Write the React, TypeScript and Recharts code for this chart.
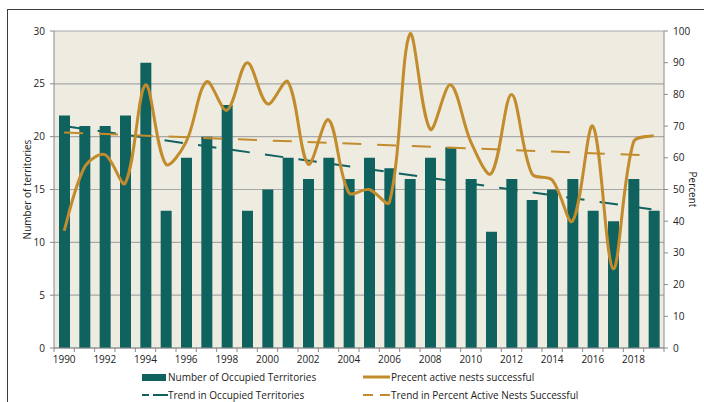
import { Bar, CartesianGrid, ComposedChart, Line, XAxis, YAxis } from "recharts";

const years = [
  1990, 1991, 1992, 1993, 1994, 1995, 1996, 1997, 1998, 1999, 2000, 2001, 2002, 2003, 2004,
  2005, 2006, 2007, 2008, 2009, 2010, 2011, 2012, 2013, 2014, 2015, 2016, 2017, 2018, 2019,
];
const territories = [
  22, 21, 21, 22, 27, 13, 18, 20, 23, 13, 15, 18, 16, 18, 16,
  18, 17, 16, 18, 19, 16, 11, 16, 14, 15, 16, 13, 12, 16, 13,
];
const percentSuccessful = [
  37, 57, 61, 52, 83, 58, 65, 84, 75, 90, 77, 84, 58, 72, 49,
  50, 46, 99, 69, 83, 65, 55, 80, 55, 53, 40, 70, 25, 65, 67,
];
// trend lines: only the two end points, joined straight
const territoryTrendEnds = [21.0, 13.1];
const percentTrendEnds = [68, 60.7];

const leftTicks = [0, 5, 10, 15, 20, 25, 30];
const rightTicks = [0, 10, 20, 30, 40, 50, 60, 70, 80, 90, 100];

const TEAL = "#10625f";
const GOLD = "#c28c2c";
const BEIGE = "#eeebe0";
const GRID = "#a8a8a8";
const AXIS = "#8a8a8a";
const FONT = "'Open Sans', sans-serif";

const PLOT_LEFT = 54;
const PLOT_RIGHT = 664;
const PLOT_BOTTOM = 348;
const BAND = (PLOT_RIGHT - PLOT_LEFT) / years.length;

const data = years.map((year, i) => ({
  year,
  territories: territories[i],
  percent: percentSuccessful[i],
  territoryTrend: i === 0 ? territoryTrendEnds[0] : i === years.length - 1 ? territoryTrendEnds[1] : null,
  percentTrend: i === 0 ? percentTrendEnds[0] : i === years.length - 1 ? percentTrendEnds[1] : null,
}));

// Excel-like smoothed line: bezier with chord-length weighted tangents
const excelSmooth = (ctx: any) => {
  let pts: number[][] = [];
  const dist = (a: number[], b: number[]) => Math.hypot(b[0] - a[0], b[1] - a[1]) || 1e-6;
  return {
    areaStart() {},
    areaEnd() {},
    lineStart() {
      pts = [];
    },
    point(x: number, y: number) {
      pts.push([+x, +y]);
    },
    lineEnd() {
      if (!pts.length) return;
      ctx.moveTo(pts[0][0], pts[0][1]);
      for (let i = 0; i < pts.length - 1; i++) {
        const p0 = pts[i - 1] || pts[i];
        const p1 = pts[i];
        const p2 = pts[i + 1];
        const p3 = pts[i + 2] || p2;
        const d01 = i === 0 ? dist(p1, p2) : dist(p0, p1);
        const d12 = dist(p1, p2);
        const d23 = i + 2 >= pts.length ? d12 : dist(p2, p3);
        const f1 = d12 / (d01 + d12) / 3;
        const f2 = d12 / (d12 + d23) / 3;
        ctx.bezierCurveTo(
          p1[0] + (p2[0] - p0[0]) * f1,
          p1[1] + (p2[1] - p0[1]) * f1,
          p2[0] - (p3[0] - p1[0]) * f2,
          p2[1] - (p3[1] - p1[1]) * f2,
          p2[0],
          p2[1]
        );
      }
    },
  };
};

const XTick = (props: any) => {
  const { x, payload, index } = props;
  const left = x - BAND / 2;
  return (
    <g>
      <line x1={left} x2={left} y1={PLOT_BOTTOM} y2={PLOT_BOTTOM + 4} stroke={AXIS} />
      {index === years.length - 1 && (
        <line x1={x + BAND / 2} x2={x + BAND / 2} y1={PLOT_BOTTOM} y2={PLOT_BOTTOM + 4} stroke={AXIS} />
      )}
      {payload.value % 2 === 0 && (
        <text x={x} y={PLOT_BOTTOM + 15} textAnchor="middle" fontSize={10} fill="#222" fontFamily={FONT}>
          {payload.value}
        </text>
      )}
    </g>
  );
};

const legendText = { position: "absolute" as const, fontSize: 10, color: "#222", fontFamily: FONT, lineHeight: "12px" };

export default function App() {
  return (
    <div style={{ position: "absolute", left: 0, top: 0, width: 704, height: 402, overflow: "hidden", background: "#fff" }}>
      <div
        style={{
          position: "absolute",
          left: 7,
          top: 9,
          width: 800,
          height: 500,
          border: "1.5px solid #3c3c3c",
        }}
      />
      <ComposedChart
        width={704}
        height={402}
        data={data}
        margin={{ top: 31, right: 0, bottom: 34, left: 0 }}
        style={{ position: "absolute", left: 0, top: 0 }}
      >
        <CartesianGrid yAxisId="left" vertical={false} stroke={GRID} strokeWidth={1.2} fill={BEIGE} />
        <XAxis
          dataKey="year"
          interval={0}
          height={20}
          tick={<XTick />}
          tickLine={false}
          axisLine={{ stroke: AXIS }}
        />
        <YAxis
          yAxisId="left"
          width={54}
          domain={[0, 30]}
          ticks={leftTicks}
          tickSize={4}
          tickMargin={5}
          tick={{ fontSize: 10, fill: "#222", fontFamily: FONT }}
          stroke={AXIS}
          label={{
            value: "Number of territories",
            angle: -90,
            position: "insideLeft",
            offset: 27,
            style: { textAnchor: "middle", fontSize: 10, fill: "#222", fontFamily: FONT },
          }}
        />
        <YAxis
          yAxisId="right"
          orientation="right"
          width={40}
          domain={[0, 100]}
          ticks={rightTicks}
          tickSize={4}
          tickMargin={5}
          tick={{ fontSize: 10, fill: "#222", fontFamily: FONT }}
          stroke={AXIS}
          label={{
            value: "Percent",
            angle: 90,
            position: "insideRight",
            offset: 11,
            style: { textAnchor: "middle", fontSize: 10, fill: "#222", fontFamily: FONT },
          }}
        />
        <Bar yAxisId="left" dataKey="territories" fill={TEAL} barSize={11} isAnimationActive={false} />
        <Line
          yAxisId="left"
          dataKey="territoryTrend"
          connectNulls
          stroke={TEAL}
          strokeWidth={2}
          strokeDasharray="18.5 15.3"
          dot={false}
          isAnimationActive={false}
        />
        <Line
          yAxisId="right"
          dataKey="percentTrend"
          connectNulls
          stroke={GOLD}
          strokeWidth={2}
          strokeDasharray="19 15.8"
          dot={false}
          isAnimationActive={false}
        />
        <Line
          yAxisId="right"
          dataKey="percent"
          type={excelSmooth as any}
          stroke={GOLD}
          strokeWidth={3}
          dot={false}
          isAnimationActive={false}
        />
      </ComposedChart>

      {/* legend */}
      <svg style={{ position: "absolute", left: 142, top: 374 }} width={24} height={7}>
        <rect x={0} y={0} width={24} height={7} fill={TEAL} />
      </svg>
      <div style={{ ...legendText, left: 168, top: 371 }}>Number of Occupied Territories</div>
      <svg style={{ position: "absolute", left: 142, top: 393 }} width={26} height={4}>
        <line x1={0} x2={26} y1={2} y2={2} stroke={TEAL} strokeWidth={2} strokeDasharray="7 4 9 0" />
      </svg>
      <div style={{ ...legendText, left: 168, top: 389 }}>Trend in Occupied Territories</div>
      <svg style={{ position: "absolute", left: 363, top: 374 }} width={27} height={6}>
        <line x1={0} x2={27} y1={3} y2={3} stroke={GOLD} strokeWidth={3} />
      </svg>
      <div style={{ ...legendText, left: 391, top: 371 }}>Precent active nests successful</div>
      <svg style={{ position: "absolute", left: 363, top: 393 }} width={27} height={4}>
        <line x1={0} x2={27} y1={2} y2={2} stroke={GOLD} strokeWidth={2} strokeDasharray="10 7 10 0" />
      </svg>
      <div style={{ ...legendText, left: 391, top: 389 }}>Trend in Percent Active Nests Successful</div>
    </div>
  );
}
